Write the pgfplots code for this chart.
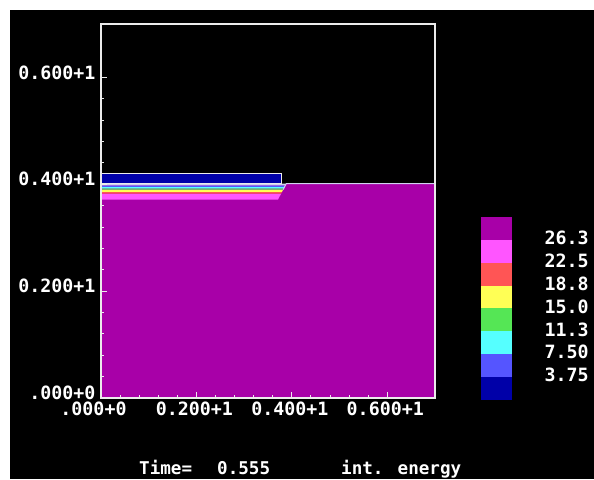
\documentclass[border=0pt]{standalone}
\usepackage{pgfplots}
\pgfplotsset{compat=1.18}
\usepackage{fontspec}
\newfontfamily\pixfont{DejaVu Sans Mono}
\newcommand\pix{\pixfont\bfseries\fontsize{18.3}{20}\selectfont}
\newcommand\pixs{\pixfont\bfseries\fontsize{17.6}{20}\selectfont}
\definecolor{cMag}{RGB}{168,0,168}
\definecolor{cPink}{RGB}{255,85,255}
\definecolor{cRed}{RGB}{255,85,85}
\definecolor{cYel}{RGB}{255,255,85}
\definecolor{cGrn}{RGB}{85,230,85}
\definecolor{cCya}{RGB}{85,255,255}
\definecolor{cLBl}{RGB}{85,85,255}
\definecolor{cBlu}{RGB}{0,0,168}
\definecolor{axw}{RGB}{235,235,235}
\definecolor{cLine}{RGB}{210,210,240}
\begin{document}
\begin{tikzpicture}[x=1pt,y=1pt]
\useasboundingbox (0,0) rectangle (594,479);
\fill[white] (0,0) rectangle (594,479);
\fill[black] (10,0) rectangle (594,469);
\begin{axis}[at={(101pt,81pt)}, anchor=south west, scale only axis,
  width=334pt, height=374pt,
  xmin=0, xmax=0.7, ymin=0, ymax=0.7,
  axis on top,
  axis line style={draw=axw, line width=1.3pt},
  tick style={axw, line width=1pt},
  xtick={0,0.2,0.4,0.6}, ytick={0,0.2,0.4,0.6},
  minor tick num=4, tick pos=left, tick align=inside,
  major tick length=6pt, minor tick length=3pt,
  xticklabels={{.000+0\phantom{0}},0.200+1,0.400+1,0.600+1},
  yticklabels={.000+0,0.200+1,0.400+1,0.600+1},
  xticklabel style={xshift=-2pt},
  yticklabel style={yshift=5pt, xshift=-2pt},
  tick label style={white, font=\pix}]
% bulk
\addplot[fill=cMag, draw=none] coordinates {(0,0) (0.7,0) (0.7,0.4013) (0,0.4013)} -- cycle;
% layers under the plate
\addplot[fill=cPink, draw=none] coordinates {(0,0.3714) (0.3710,0.3714) (0.3775,0.3826) (0,0.3826)} -- cycle;
\addplot[fill=cRed, draw=none] coordinates {(0,0.3826) (0.3775,0.3826) (0.3792,0.3856) (0,0.3856)} -- cycle;
\addplot[fill=cYel, draw=none] coordinates {(0,0.3856) (0.3792,0.3856) (0.3818,0.3901) (0,0.3901)} -- cycle;
\addplot[fill=cGrn, draw=none] coordinates {(0,0.3901) (0.3818,0.3901) (0.3832,0.3925) (0,0.3925)} -- cycle;
\addplot[fill=cCya, draw=none] coordinates {(0,0.3925) (0.3832,0.3925) (0.3847,0.3950) (0,0.3950)} -- cycle;
\addplot[fill=cLBl, draw=none] coordinates {(0,0.3950) (0.3847,0.3950) (0.3865,0.3981) (0,0.3981)} -- cycle;
\addplot[fill=cLine, draw=none] coordinates {(0,0.3981) (0.3865,0.3981) (0.3883,0.4013) (0,0.4013)} -- cycle;
% plate
\addplot[fill=cBlu, draw=axw, line width=1pt] coordinates {(0,0.4013) (0.379,0.4013) (0.379,0.4211) (0,0.4211)} -- cycle;
% surface lines
\addplot[draw=cLine, line width=1pt] coordinates {(0.3818,0.3901) (0.3883,0.4013) (0.7,0.4013)};
\end{axis}
% colour bar
\begin{axis}[at={(481pt,79pt)}, anchor=south west, scale only axis,
  width=31pt, height=183pt,
  xmin=0, xmax=1, ymin=0, ymax=8,
  axis line style={draw=none},
  major tick length=0pt, xtick=\empty,
  ytick={1,2,3,4,5,6,7},
  yticklabels={3.75,7.50,11.3,15.0,18.8,22.5,26.3},
  yticklabel pos=right,
  yticklabel style={anchor=west, xshift=29pt, yshift=2pt},
  tick label style={white, font=\pix}]
\addplot[fill=cBlu, draw=none] coordinates {(0,0) (1,0) (1,1) (0,1)} -- cycle;
\addplot[fill=cLBl, draw=none] coordinates {(0,1) (1,1) (1,2) (0,2)} -- cycle;
\addplot[fill=cCya, draw=none] coordinates {(0,2) (1,2) (1,3) (0,3)} -- cycle;
\addplot[fill=cGrn, draw=none] coordinates {(0,3) (1,3) (1,4) (0,4)} -- cycle;
\addplot[fill=cYel, draw=none] coordinates {(0,4) (1,4) (1,5) (0,5)} -- cycle;
\addplot[fill=cRed, draw=none] coordinates {(0,5) (1,5) (1,6) (0,6)} -- cycle;
\addplot[fill=cPink, draw=none] coordinates {(0,6) (1,6) (1,7) (0,7)} -- cycle;
\addplot[fill=cMag, draw=none] coordinates {(0,7) (1,7) (1,8) (0,8)} -- cycle;
\end{axis}
\node[anchor=base west, inner sep=0pt, text=white, font=\pixs] at (139,5) {Time=};
\node[anchor=base west, inner sep=0pt, text=white, font=\pixs] at (217,5) {0.555};
\node[anchor=base west, inner sep=0pt, text=white, font=\pixs] at (341,5) {int. energy};
\end{tikzpicture}
\end{document}
